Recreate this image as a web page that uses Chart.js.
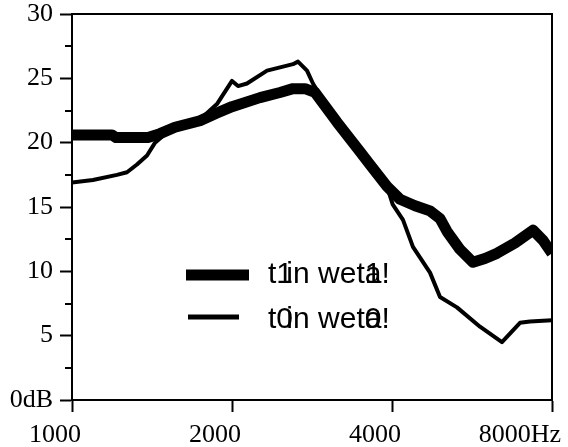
<!DOCTYPE html>
<html>
<head>
<meta charset="utf-8">
<script src="https://cdn.jsdelivr.net/npm/chart.js@4"></script>
<style>
  html, body { margin: 0; padding: 0; background: #fff; }
  #wrap { width: 568px; height: 447px; }
</style>
</head>
<body>
<div id="wrap"><canvas id="chart"></canvas></div>
<script>
// frequency (Hz) and level (dB)
const thickFreq = [1000, 1189, 1210, 1390, 1464, 1562, 1741, 1874, 2000, 2258, 2462, 2605, 2744, 2866,
  3151, 3482, 3636, 3914, 4141, 4420, 4716, 4925, 5077, 5370, 5681, 5983, 6303, 6815, 7368, 7695, 8000];
const thickLevel = [20.6, 20.6, 20.4, 20.4, 20.7, 21.2, 21.7, 22.3, 22.8, 23.5, 23.9, 24.2, 24.2, 23.9,
  21.6, 19.3, 18.3, 16.6, 15.6, 15.1, 14.7, 14.1, 13.1, 11.7, 10.7, 11.0, 11.4, 12.2, 13.2, 12.4, 11.4];

const thinFreq = [1000, 1095, 1215, 1269, 1325, 1384, 1433, 1529, 1741, 1874, 2000, 2053, 2134, 2328, 2605,
  2662, 2768, 2840, 3151, 3482, 3914, 4012, 4195, 4380, 4716, 4925, 5300, 5856, 6441, 6964, 7272, 8000];
const thinLevel = [16.9, 17.1, 17.5, 17.7, 18.3, 19.0, 20.0, 21.0, 21.8, 23.0, 24.8, 24.4, 24.6, 25.6, 26.1,
  26.3, 25.6, 24.6, 21.6, 19.3, 16.6, 15.2, 14.0, 11.9, 9.9, 8.0, 7.2, 5.7, 4.5, 6.0, 6.1, 6.2];

const legendLabels = ['t1in weta1!', 't0in weta0!'];
const xTicks = [1000, 2000, 4000, 8000];
const xTickLabels = ['1000', '2000', '4000', '8000Hz'];
const yTickLabels = ['0dB', '5', '10', '15', '20', '25', '30'];
const yMinorTicks = [2.5, 7.5, 12.5, 17.5, 22.5, 27.5];

const toPoints = (xs, ys) => xs.map((x, i) => ({ x: x, y: ys[i] }));

const serif = { family: 'Liberation Serif', size: 26 };

// the legend glyphs overlap in the source: first digit sits on the "i",
// second one is printed back over the "a"
function drawLabel(ctx, text, x, y) {
  let n = 0;
  for (const ch of text) {
    const w = ctx.measureText(ch).width;
    if (/\d/.test(ch)) {
      if (n === 0) {
        ctx.fillText(ch, x, y);
        x += w * 0.6;
      } else {
        ctx.fillText(ch, x - w, y);
      }
      n++;
    } else {
      ctx.fillText(ch, x, y);
      x += w;
    }
  }
}

const framePlugin = {
  id: 'frame',
  afterDraw(chart) {
    const ctx = chart.ctx;
    const a = chart.chartArea;
    const y = chart.scales.y;
    ctx.save();
    ctx.strokeStyle = '#000';
    ctx.lineWidth = 2;
    ctx.beginPath();
    ctx.moveTo(a.left, a.top);
    ctx.lineTo(a.right, a.top);
    ctx.lineTo(a.right, a.bottom);
    yMinorTicks.forEach(v => {
      const py = Math.round(y.getPixelForValue(v));
      ctx.moveTo(a.left - 7, py);
      ctx.lineTo(a.left, py);
    });
    ctx.stroke();

    // legend
    const rows = [
      { x0: 186, x1: 249, y: 275, w: 11, ty: 283 },
      { x0: 188, x1: 239, y: 317, w: 5, ty: 328 }
    ];
    ctx.fillStyle = '#000';
    ctx.font = '30px "Liberation Sans"';
    ctx.textBaseline = 'alphabetic';
    rows.forEach((r, i) => {
      ctx.lineWidth = r.w;
      ctx.beginPath();
      ctx.moveTo(r.x0, r.y);
      ctx.lineTo(r.x1, r.y);
      ctx.stroke();
      drawLabel(ctx, legendLabels[i], 268, r.ty);
    });
    ctx.restore();
  }
};

new Chart(document.getElementById('chart'), {
  type: 'line',
  data: {
    datasets: [
      {
        label: legendLabels[0],
        data: toPoints(thickFreq, thickLevel),
        borderColor: '#000',
        borderWidth: 11,
        borderJoinStyle: 'round',
        pointRadius: 0,
        tension: 0,
        fill: false
      },
      {
        label: legendLabels[1],
        data: toPoints(thinFreq, thinLevel),
        borderColor: '#000',
        borderWidth: 4,
        borderJoinStyle: 'round',
        pointRadius: 0,
        tension: 0,
        fill: false
      }
    ]
  },
  options: {
    responsive: true,
    maintainAspectRatio: false,
    animation: false,
    layout: { padding: { top: 14, right: 16, left: 0, bottom: 0 } },
    plugins: {
      legend: { display: false },
      tooltip: { enabled: false }
    },
    scales: {
      x: {
        type: 'logarithmic',
        min: 1000,
        max: 8000,
        afterBuildTicks: s => { s.ticks = xTicks.map(v => ({ value: v })); },
        afterFit: s => { s.height = 47; s.paddingLeft = 0; s.paddingRight = 0; },
        ticks: {
          callback: (v, i) => xTickLabels[i],
          align: 'end',
          labelOffset: 9,
          padding: 8,
          maxRotation: 0,
          autoSkip: false,
          color: '#000',
          font: serif
        },
        grid: { drawOnChartArea: false, tickLength: 12, tickWidth: 2, tickColor: '#000' },
        border: { color: '#000', width: 2 }
      },
      y: {
        min: 0,
        max: 30,
        afterFit: s => { s.width = 72; s.paddingTop = 0; s.paddingBottom = 0; },
        ticks: {
          stepSize: 5,
          callback: (v, i) => yTickLabels[i],
          padding: 7,
          color: '#000',
          font: serif
        },
        grid: { drawOnChartArea: false, tickLength: 12, tickWidth: 2, tickColor: '#000' },
        border: { color: '#000', width: 2 }
      }
    }
  },
  plugins: [framePlugin]
});
</script>
</body>
</html>
